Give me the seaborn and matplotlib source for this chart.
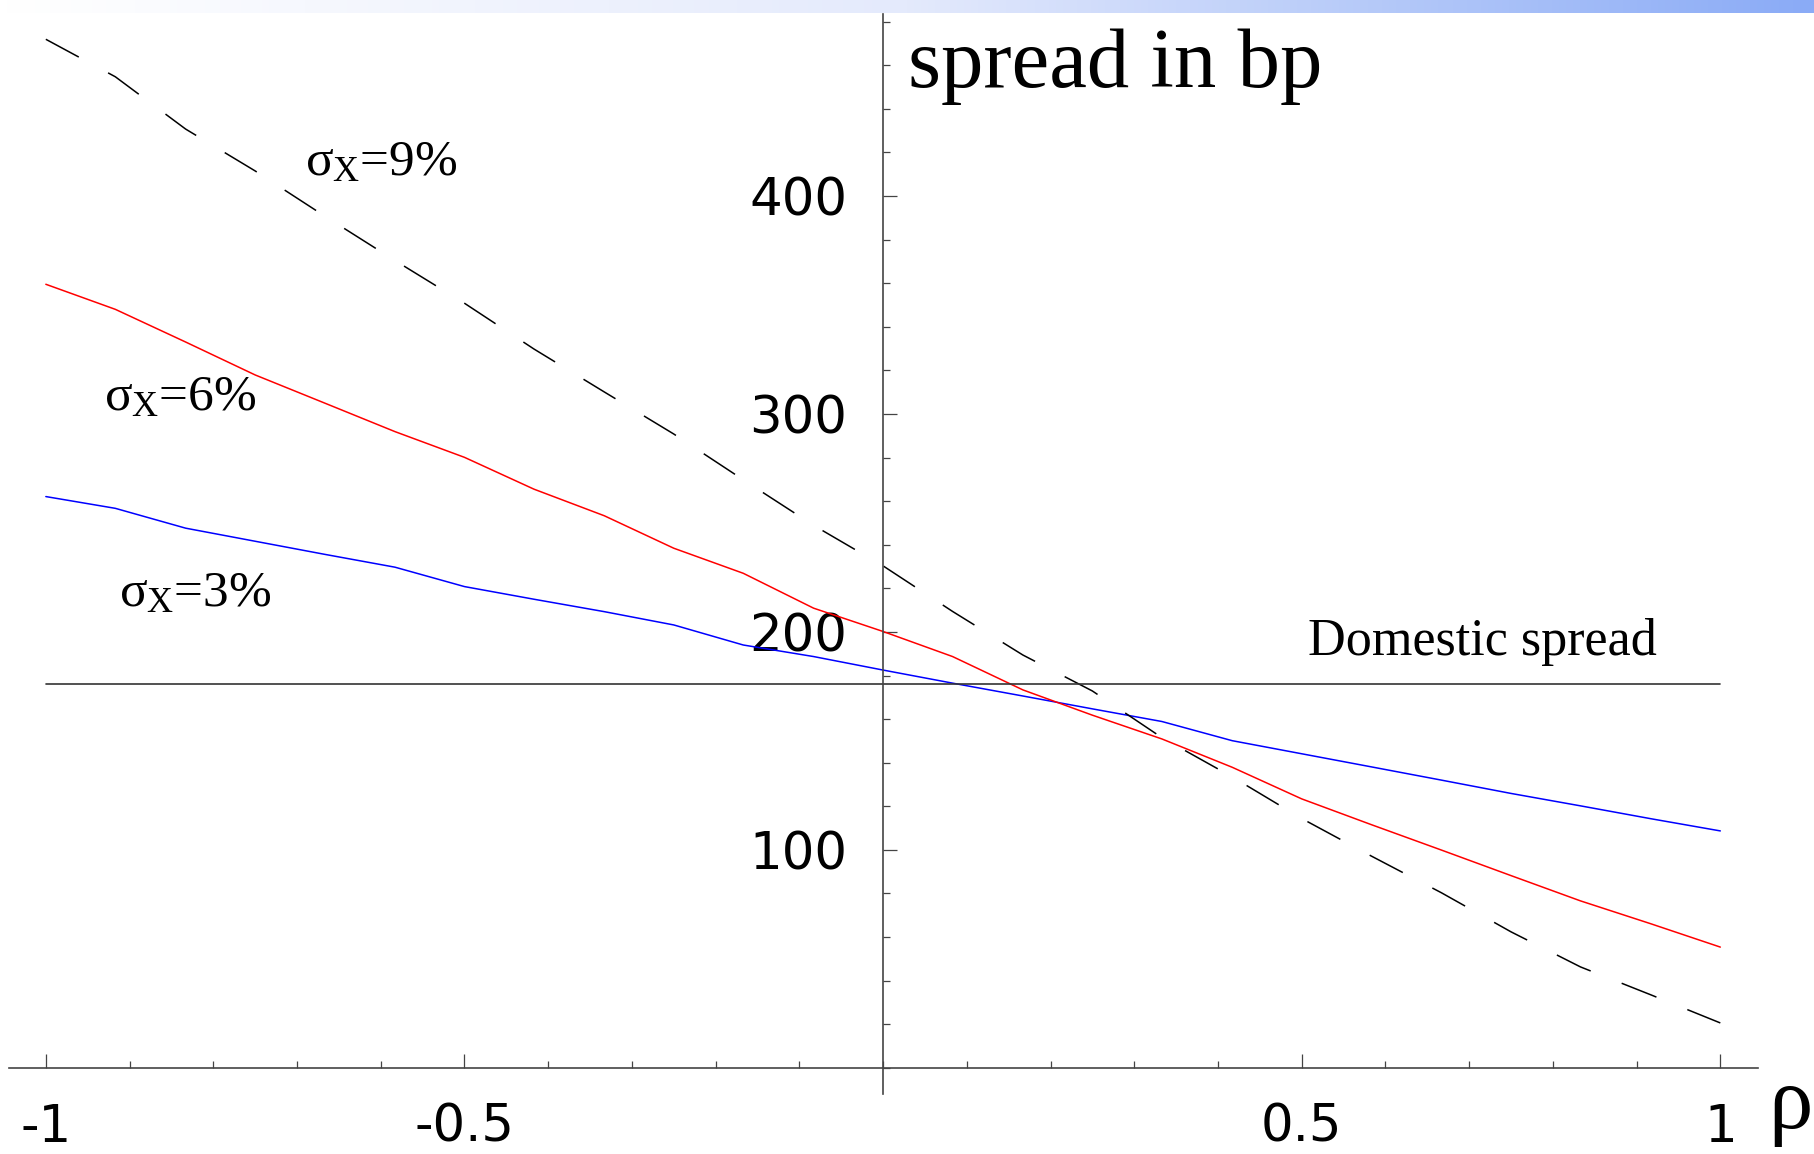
import numpy as np
import pandas as pd
import matplotlib
matplotlib.use("Agg")
import matplotlib.pyplot as plt
from matplotlib.ticker import FixedLocator, FixedFormatter, MultipleLocator
from matplotlib.colors import LinearSegmentedColormap
import seaborn as sns

sns.set_style("white")
plt.rcParams['font.family'] = ['DejaVu Sans']
plt.rcParams['axes.unicode_minus'] = False
plt.rcParams['text.color'] = 'black'
plt.rcParams['xtick.color'] = 'black'
plt.rcParams['ytick.color'] = 'black'
plt.rcParams['xtick.labelcolor'] = 'black'
plt.rcParams['ytick.labelcolor'] = 'black'
plt.rcParams['mathtext.fontset'] = 'custom'
plt.rcParams['mathtext.rm'] = 'Liberation Serif'
plt.rcParams['mathtext.it'] = 'Liberation Serif'

# ---- data ----
rho = [-1.0, -0.917, -0.833, -0.75, -0.667, -0.583, -0.5, -0.417, -0.333,
       -0.25, -0.167, -0.083, 0.0, 0.083, 0.167, 0.25, 0.333, 0.417, 0.5,
       0.583, 0.667, 0.75, 0.833, 0.917, 1.0]
spread_sigma3 = [262.1, 256.7, 247.6, 241.6, 235.6, 229.7, 220.8, 215.0, 209.3,
                 203.2, 194.0, 188.7, 182.5, 176.5, 170.6, 164.7, 158.9, 150.1,
                 144.1, 138.1, 132.0, 125.9, 120.2, 114.3, 108.7]
spread_sigma6 = [359.5, 348.0, 333.0, 317.9, 305.0, 291.9, 280.1, 265.5, 253.3,
                 238.4, 226.9, 210.9, 200.2, 188.7, 173.4, 161.8, 150.9, 137.9,
                 123.4, 111.6, 99.9, 88.2, 76.6, 66.1, 55.4]
spread_sigma9 = [471.9, 454.7, 430.7, 411.5, 390.8, 370.4, 350.8, 329.8, 310.1,
                 290.8, 269.8, 248.9, 230.3, 209.4, 189.4, 172.9, 151.5, 133.5,
                 114.4, 97.2, 80.3, 62.4, 46.3, 33.5, 20.6]
domestic_x = [-1.0, 1.0]
domestic_spread = [176.0, 176.0]

series_names = ["3%", "6%", "9%"]
x_ticks = [-1, -0.5, 0.5, 1]
x_tick_labels = ["-1", "-0.5", "0.5", "1"]
y_ticks = [100, 200, 300, 400]
y_tick_labels = ["100", "200", "300", "400"]

df = pd.DataFrame({
    "rho": rho * 3,
    "spread": spread_sigma3 + spread_sigma6 + spread_sigma9,
    "sigma": [series_names[0]] * len(rho) + [series_names[1]] * len(rho) + [series_names[2]] * len(rho),
})

# ---- figure ----
W, H = 1814, 1154
fig = plt.figure(figsize=(W / 100, H / 100), dpi=100)
fig.patch.set_facecolor("white")

# top gradient band
band = fig.add_axes([0, 1 - 13 / H, 1, 13 / H])
cmap = LinearSegmentedColormap.from_list("band", ["#ffffff", "#e4eafc", "#8aabf6"])
band.imshow(np.linspace(0, 1, 512)[None, :], aspect="auto", cmap=cmap,
            extent=[0, 1, 0, 1])
band.set_axis_off()

xmin, xmax = -1.044, 1.045
ymin, ymax = -12, 483.5
left_px, right_px, top_px, bot_px = 9, 1758, 14, 1094
ax = fig.add_axes([left_px / W, 1 - bot_px / H, (right_px - left_px) / W, (bot_px - top_px) / H])
ax.set_facecolor("none")
ax.set_xlim(xmin, xmax)
ax.set_ylim(ymin, ymax)

sns.lineplot(data=df, x="rho", y="spread", hue="sigma", style="sigma",
             palette={"3%": "#0000ff", "6%": "#ff0000", "9%": "#000000"},
             dashes={"3%": "", "6%": "", "9%": (24.5, 21.8)},
             linewidth=1.1, legend=False, sort=False, estimator=None, ax=ax)
ax.plot(domestic_x, domestic_spread, color="#333333", lw=1.2)

# axes through origin
for s in ["top", "right"]:
    ax.spines[s].set_visible(False)
ax.spines["left"].set_position(("data", 0))
ax.spines["bottom"].set_position(("data", 0))
for s in ["left", "bottom"]:
    ax.spines[s].set_color("#444444")
    ax.spines[s].set_linewidth(1.2)

ax.xaxis.set_major_locator(FixedLocator(x_ticks))
ax.xaxis.set_major_formatter(FixedFormatter(x_tick_labels))
ax.xaxis.set_minor_locator(MultipleLocator(0.1))
ax.yaxis.set_major_locator(FixedLocator(y_ticks))
ax.yaxis.set_major_formatter(FixedFormatter(y_tick_labels))
ax.yaxis.set_minor_locator(MultipleLocator(20))

ax.tick_params(which="both", direction="in", color="#444444", width=0.9,
               labelcolor="black",
               bottom=True, left=True, top=False, right=False)
ax.tick_params(which="major", length=10)
ax.tick_params(which="minor", length=5)
ax.tick_params(axis="x", which="major", labelsize=37, pad=25)
ax.tick_params(axis="y", which="major", labelsize=37, pad=26)
ax.set_xlabel("")
ax.set_ylabel("")
ax.grid(False)

serif = ["Liberation Serif", "DejaVu Serif"]
ax.text(0.030, 450, "spread in bp", family=serif, fontsize=61, color="black",
        ha="left", va="baseline")
ax.text(-0.69, 409.6, r"$\sigma_{\mathrm{X}}$=9%", family=serif, fontsize=37,
        color="black", ha="left", va="baseline")
ax.text(-0.931, 301.8, r"$\sigma_{\mathrm{X}}$=6%", family=serif, fontsize=37,
        color="black", ha="left", va="baseline")
ax.text(-0.913, 212.0, r"$\sigma_{\mathrm{X}}$=3%", family=serif, fontsize=37,
        color="black", ha="left", va="baseline")
ax.text(0.508, 189.4, "Domestic spread", family=serif, fontsize=37.5,
        color="black", ha="left", va="baseline")
fig.text(1768 / W, 1 - 1128 / H, "ρ", family=serif, fontsize=64,
         color="black", ha="left", va="baseline")

fig.savefig("out.png", dpi=100, facecolor="white")
